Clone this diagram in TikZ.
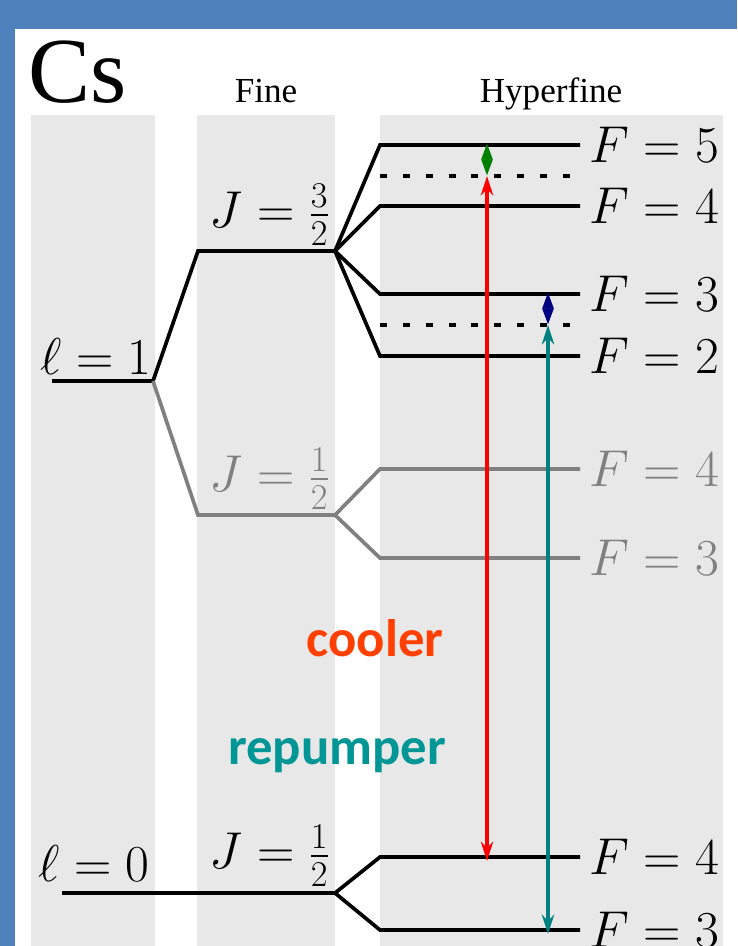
\RequirePackage{fix-cm}
\documentclass[tikz,border=0pt]{standalone}
\usepackage{amsmath}
\usepackage{xcolor}
\usepackage{fontspec}
\setmainfont{Liberation Serif}
\newfontfamily\slidefont{Carlito}
\usepackage{tikz}
\usetikzlibrary{arrows.meta}

\definecolor{slideblue}{RGB}{79,129,189}
\definecolor{bandgray}{RGB}{232,232,232}
\definecolor{coolred}{RGB}{255,64,0}
\definecolor{repteal}{RGB}{0,150,150}
\definecolor{armteal}{RGB}{0,128,128}
\definecolor{tunegreen}{RGB}{0,128,0}
\definecolor{tunenavy}{RGB}{0,0,128}

\begin{document}
\begin{tikzpicture}[
    x=0.02cm,
    y=-0.02cm,
    every node/.style={inner sep=0pt, font=\fontsize{29.5}{35}\selectfont},
    band/.style={fill=bandgray},
    strong/.style={line width=2.1pt, draw=black},
    faint/.style={line width=2.1pt, draw=gray},
    virtual/.style={line width=2pt, dash pattern=on 4pt off 9pt},
    beam/.style={line width=2.8pt, {Stealth[length=11pt,width=7pt]}-{Stealth[length=11pt,width=7pt]}},
    detune/.style={line width=2pt, {Triangle[length=9.4pt,width=6pt]}-{Triangle[length=9.4pt,width=6pt]}},
    tag/.style={font=\slidefont\bfseries\fontsize{30}{36}\selectfont}
]
\clip (0,0) rectangle (737,946);
\fill[slideblue] (0,0) rectangle (737,946);
\fill[white] (15,29) rectangle (737,946);
\foreach \xa/\xb in {31/155,197/335,380/723}
  \fill[band] (\xa,115) rectangle (\xb,946);

\node[anchor=base west, font=\fontsize{53}{60}\selectfont] (cs) at (28,103) {Cs};
\node[anchor=base, font=\fontsize{20}{24}\selectfont] (fine) at (266,103) {Fine};
\node[anchor=base, font=\fontsize{20}{24}\selectfont] (hyper) at (551,103) {Hyperfine};

% orbital and fine levels
\coordinate (p-l) at (52,381);
\coordinate (p-r) at (153,381);
\coordinate (p32-l) at (198,251);
\coordinate (p32-r) at (335,251);
\coordinate (p12-l) at (198,515);
\coordinate (p12-r) at (335,515);
\coordinate (s-l) at (62,893);
\coordinate (s-r) at (335,893);

% hyperfine levels
\foreach \n/\y in {f5/145,f4/206,f3/294,f2/356,g4/469,g3/558,s4/857,s3/930} {
  \coordinate (\n-l) at (380,\y);
  \coordinate (\n-r) at (580,\y);
}
\coordinate (v1-l) at (380,176);
\coordinate (v1-r) at (575,176);
\coordinate (v2-l) at (380,325);
\coordinate (v2-r) at (575,325);

\draw[strong] (p-l) -- (p-r) -- (p32-l) -- (p32-r);
\foreach \n in {f5,f4,f3,f2}
  \draw[strong] (p32-r) -- (\n-l) -- (\n-r);
\draw[faint] (p-r) -- (p12-l) -- (p12-r);
\foreach \n in {g4,g3}
  \draw[faint] (p12-r) -- (\n-l) -- (\n-r);
\draw[strong] (s-l) -- (s-r);
\foreach \n in {s4,s3}
  \draw[strong] (s-r) -- (\n-l) -- (\n-r);
\draw[virtual] (v1-l) -- (v1-r);
\draw[virtual] (v2-l) -- (v2-r);

% labels
\node[anchor=base west] (p-t) at (40,374) {$\ell=1$};
\node[anchor=south east] (p32-t) at (330,246) {$J=\frac{3}{2}$};
\node[anchor=south east, text=gray] (p12-t) at (330,510) {$J=\frac{1}{2}$};
\node[anchor=base west] (s-t) at (38,881) {$\ell=0$};
\node[anchor=south east] (s12-t) at (330,887) {$J=\frac{1}{2}$};
\foreach \n/\f in {f5/5,f4/4,f3/3,f2/2,s4/4,s3/3}
  \node[anchor=west, xshift=5pt] (\n-t) at (\n-r) {$F=\f$};
\foreach \n/\f in {g4/4,g3/3}
  \node[anchor=west, xshift=5pt, text=gray] (\n-t) at (\n-r) {$F=\f$};

% lasers
\coordinate (c-lo) at (487,861);
\coordinate (c-hi) at (487,176);
\coordinate (c-top) at (487,143);
\coordinate (r-lo) at (548,934);
\coordinate (r-hi) at (548,325);
\coordinate (r-top) at (548,292);
\draw[beam, red] (c-hi) -- (c-lo);
\draw[beam, armteal] (r-hi) -- (r-lo);
\draw[detune, tunegreen] (c-hi) -- (c-top);
\draw[detune, tunenavy] (r-hi) -- (r-top);

\node[tag, text=coolred, anchor=base] (cool) at (375,656) {cooler};
\node[tag, text=repteal, anchor=base] (rep) at (337,764) {repumper};
\end{tikzpicture}
\end{document}
